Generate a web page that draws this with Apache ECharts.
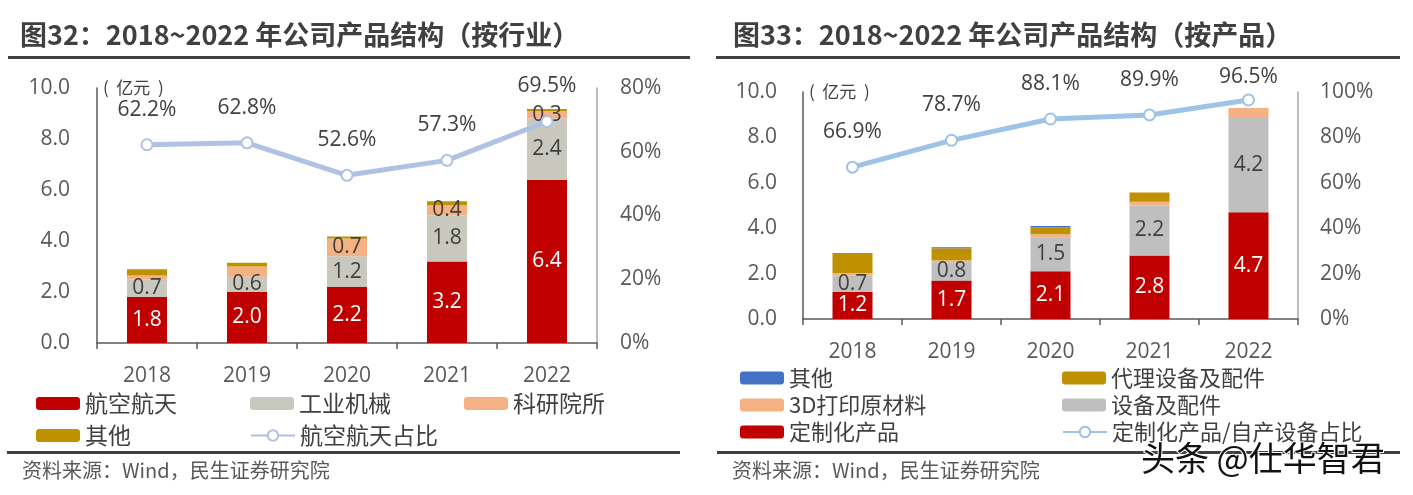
<!DOCTYPE html>
<html>
<head>
<meta charset="utf-8">
<script src="https://cdn.jsdelivr.net/npm/echarts@6/dist/echarts.min.js"></script>
<style>
html,body{margin:0;padding:0;background:#fff;}
#c{width:1413px;height:495px;}
</style>
</head>
<body>
<div id="c"></div>
<script>
// ---- data ----
const years = ['2018','2019','2020','2021','2022'];
// Left chart (by industry), 亿元
const aero = [1.8, 2.0, 2.2, 3.2, 6.4];          // 航空航天
const industry = [0.7, 0.6, 1.2, 1.8, 2.4];      // 工业机械
const research = [0.15, 0.4, 0.7, 0.4, 0.3];     // 科研院所
const otherL = [0.24, 0.15, 0.08, 0.16, 0.08];   // 其他
const aeroShare = [62.2, 62.8, 52.6, 57.3, 69.5]; // 航空航天占比 %
const researchLabelShown = [false, false, true, true, true];
// Right chart (by product), 亿元
const custom = [1.2, 1.7, 2.1, 2.8, 4.7];        // 定制化产品
const equip = [0.7, 0.8, 1.5, 2.2, 4.2];         // 设备及配件
const material = [0.13, 0.09, 0.13, 0.17, 0.4];  // 3D打印原材料
const agency = [0.84, 0.53, 0.3, 0.4, 0];        // 代理设备及配件
const otherR = [0.04, 0.04, 0.07, 0, 0];         // 其他
const customShare = [66.9, 78.7, 88.1, 89.9, 96.5]; // 定制化产品/自产设备占比 %
const customShareLabelDist = [18, 18, 18, 18, 6];

const NUM = 'Open Sans';
const CJK = 'Noto Sans CJK SC';
const dark = '#404040';
const mid = '#595959';

const chart = echarts.init(document.getElementById('c'), null, {renderer:'canvas'});

function barLabel(color){
  return {show:true, position:'inside', color:color, fontFamily:NUM, fontSize:21,
    formatter: p => p.value.toFixed(1)};
}
function withShown(arr, shown){
  return arr.map((v,i)=>({value:v, label:{show:shown[i]}}));
}
function withDist(arr, dist){
  return arr.map((v,i)=>({value:v, label:{distance:dist[i]}}));
}
function lineLabel(){
  return {show:true, position:'top', distance:18, color:dark, fontFamily:NUM, fontSize:21,
    formatter: p => p.value.toFixed(1)+'%'};
}
function legendAt(name, left, top, size){
  return {data:[name], left:left, top:top, padding:0, itemWidth:44, itemHeight:13, itemGap:5,
    textStyle:{fontFamily:CJK, fontSize:size, color:dark}, selectedMode:false};
}

const option = {
  animation:false,
  backgroundColor:'#fff',
  graphic:[
    {type:'text', left:20, top:21, style:{text:'图32：2018~2022 年公司产品结构（按行业）', fontFamily:CJK, fontWeight:'bold', fontSize:27, fill:dark}},
    {type:'rect', shape:{x:8, y:56, width:682, height:3}, style:{fill:dark}},
    {type:'text', left:733, top:21, style:{text:'图33：2018~2022 年公司产品结构（按产品）', fontFamily:CJK, fontWeight:'bold', fontSize:27, fill:dark}},
    {type:'rect', shape:{x:716, y:56, width:684, height:3}, style:{fill:dark}},
    {type:'rect', shape:{x:7, y:451, width:673, height:3}, style:{fill:dark}},
    {type:'rect', shape:{x:717, y:451, width:683, height:3}, style:{fill:dark}},
    {type:'text', left:22, top:460, style:{text:'资料来源：Wind，民生证券研究院', fontFamily:CJK, fontSize:20, fill:mid}},
    {type:'text', left:732, top:460, style:{text:'资料来源：Wind，民生证券研究院', fontFamily:CJK, fontSize:20, fill:mid}},
    {type:'text', left:1140, top:440, z:100, style:{text:'头条 @仕华智君', fontFamily:CJK, fontSize:34, fill:'#111', stroke:'#fff', lineWidth:2}}
  ],
  legend:[
    legendAt('航空航天', 36, 392, 23),
    legendAt('工业机械', 250, 392, 23),
    legendAt('科研院所', 464, 392, 23),
    legendAt('其他L', 36, 424, 23),
    legendAt('航空航天占比', 250, 424, 23),
    legendAt('其他', 740, 367, 22),
    legendAt('3D打印原材料', 740, 394, 22),
    legendAt('定制化产品', 740, 421, 22),
    legendAt('代理设备及配件', 1062, 367, 22),
    legendAt('设备及配件', 1062, 394, 22),
    legendAt('定制化产品/自产设备占比', 1062, 421, 22)
  ],
  grid:[
    {left:97, right:816, top:88, bottom:152},
    {left:803, right:115, top:92, bottom:176}
  ],
  xAxis:[0,1].map(i=>({
    type:'category', gridIndex:i, data:years,
    axisLine:{show:true, lineStyle:{color:mid, width:1.5}},
    axisTick:{show:true, length:6, lineStyle:{color:mid, width:1.5}},
    axisLabel:{color:mid, fontFamily:NUM, fontSize:21, margin:23}
  })),
  yAxis:[
    {type:'value', gridIndex:0, min:0, max:10, interval:2,
      name:'(  亿元  )', nameLocation:'end', nameGap:0,
      nameTextStyle:{fontFamily:CJK, fontSize:17, color:dark, align:'left', verticalAlign:'middle', padding:[0,0,0,6]},
      axisLine:{show:true, lineStyle:{color:mid, width:1.5}}, axisTick:{show:false}, splitLine:{show:false},
      axisLabel:{color:mid, fontFamily:NUM, fontSize:21, margin:27, formatter:v=>v.toFixed(1)}},
    {type:'value', gridIndex:0, min:0, max:80, interval:20, position:'right',
      axisLine:{show:true, lineStyle:{color:'#a6a6a6', width:1.5}}, axisTick:{show:false}, splitLine:{show:false},
      axisLabel:{color:mid, fontFamily:NUM, fontSize:21, margin:23, formatter:'{value}%'}},
    {type:'value', gridIndex:1, min:0, max:10, interval:2,
      name:'(  亿元  )', nameLocation:'end', nameGap:0,
      nameTextStyle:{fontFamily:CJK, fontSize:17, color:dark, align:'left', verticalAlign:'middle', padding:[0,0,0,6]},
      axisLine:{show:true, lineStyle:{color:mid, width:1.5}}, axisTick:{show:false}, splitLine:{show:false},
      axisLabel:{color:mid, fontFamily:NUM, fontSize:21, margin:26, formatter:v=>v.toFixed(1)}},
    {type:'value', gridIndex:1, min:0, max:100, interval:20, position:'right',
      axisLine:{show:true, lineStyle:{color:'#a6a6a6', width:1.5}}, axisTick:{show:false}, splitLine:{show:false},
      axisLabel:{color:mid, fontFamily:NUM, fontSize:21, margin:22, formatter:'{value}%'}}
  ],
  series:[
    {name:'航空航天', type:'bar', stack:'L', xAxisIndex:0, yAxisIndex:0, barWidth:40, data:aero,
      itemStyle:{color:'#c00000'}, label:barLabel('#fff')},
    {name:'工业机械', type:'bar', stack:'L', xAxisIndex:0, yAxisIndex:0, barWidth:40, data:industry,
      itemStyle:{color:'#c8c8be'}, label:barLabel(dark)},
    {name:'科研院所', type:'bar', stack:'L', xAxisIndex:0, yAxisIndex:0, barWidth:40, data:withShown(research, researchLabelShown),
      itemStyle:{color:'#f4b183'}, label:barLabel(dark)},
    {name:'其他L', type:'bar', stack:'L', xAxisIndex:0, yAxisIndex:0, barWidth:40, data:otherL,
      itemStyle:{color:'#bf9000'}, label:{show:false}},
    {name:'航空航天占比', type:'line', xAxisIndex:0, yAxisIndex:1, data:aeroShare, z:5,
      lineStyle:{color:'#b0c1e3', width:5}, itemStyle:{color:'#fff', borderColor:'#b0c1e3', borderWidth:2},
      symbol:'circle', symbolSize:11, label:lineLabel()},

    {name:'定制化产品', type:'bar', stack:'R', xAxisIndex:1, yAxisIndex:2, barWidth:40, data:custom,
      itemStyle:{color:'#c00000'}, label:barLabel('#fff')},
    {name:'设备及配件', type:'bar', stack:'R', xAxisIndex:1, yAxisIndex:2, barWidth:40, data:equip,
      itemStyle:{color:'#bfbfbf'}, label:barLabel(dark)},
    {name:'3D打印原材料', type:'bar', stack:'R', xAxisIndex:1, yAxisIndex:2, barWidth:40, data:material,
      itemStyle:{color:'#f4b183'}, label:{show:false}},
    {name:'代理设备及配件', type:'bar', stack:'R', xAxisIndex:1, yAxisIndex:2, barWidth:40, data:agency,
      itemStyle:{color:'#bf9000'}, label:{show:false}},
    {name:'其他', type:'bar', stack:'R', xAxisIndex:1, yAxisIndex:2, barWidth:40, data:otherR,
      itemStyle:{color:'#4472c4'}, label:{show:false}},
    {name:'定制化产品/自产设备占比', type:'line', xAxisIndex:1, yAxisIndex:3, data:withDist(customShare, customShareLabelDist), z:5,
      lineStyle:{color:'#9dc3e6', width:5}, itemStyle:{color:'#fff', borderColor:'#9dc3e6', borderWidth:2},
      symbol:'circle', symbolSize:11, label:lineLabel()}
  ]
};
option.legend[3].formatter = () => '其他';
chart.setOption(option);
</script>
</body>
</html>
